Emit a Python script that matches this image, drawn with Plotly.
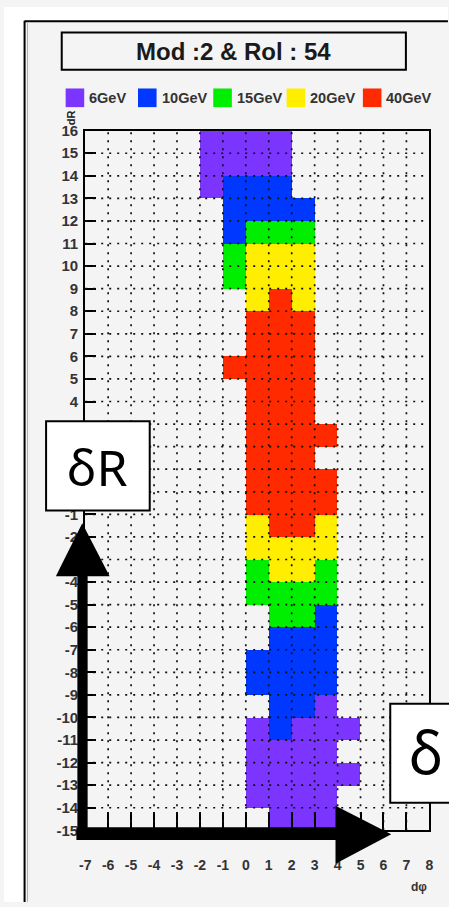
import plotly.graph_objects as go

# Energy thresholds and their fill colours
energy_labels = ["6GeV", "10GeV", "15GeV", "20GeV", "40GeV"]
energy_colors = ["#7b35ff", "#0038ff", "#00ee00", "#ffee00", "#ff2a00"]

# dphi bins: lower edges -7 .. 7 (15 bins of width 1)
dphi_low = list(range(-7, 8))
# dR rows listed from top (lower edge 15) down to bottom (lower edge -15)
dr_low_top_down = list(range(15, -16, -1))

# One character per dphi bin: '.' empty, '1'..'5' = index into energy_labels (+1)
row_codes = [
    ".....1111......",  # 15
    ".....1111......",  # 14
    ".....1222......",  # 13
    "......2222.....",  # 12
    "......2333.....",  # 11
    "......3444.....",  # 10
    "......3444.....",  # 9
    ".......454.....",  # 8
    ".......555.....",  # 7
    ".......555.....",  # 6
    "......5555.....",  # 5
    ".......555.....",  # 4
    ".......555.....",  # 3
    ".......5555....",  # 2
    ".......555.....",  # 1
    ".......5555....",  # 0
    ".......5555....",  # -1
    ".......4554....",  # -2
    ".......4444....",  # -3
    ".......3443....",  # -4
    ".......3333....",  # -5
    "........332....",  # -6
    "........222....",  # -7
    ".......2222....",  # -8
    ".......2222....",  # -9
    "........221....",  # -10
    ".......12111...",  # -11
    ".......1111....",  # -12
    ".......11111...",  # -13
    ".......1111....",  # -14
    "........111....",  # -15
]

x_ticks = list(range(-7, 9))
y_ticks = list(range(-15, 17))
# y labels that sit underneath the δR callout box are left blank
y_hidden = [0, 1, 2, 3]

W, H = 449, 907
BG = "#f4f4f4"


def px(x):
    return x / W


def py(y):
    return 1 - y / H


# Build the z matrix bottom-up for the heatmap
z = []
for codes in reversed(row_codes):
    z.append([int(c) if c != "." else None for c in codes])

n = len(energy_colors)
colorscale = []
for i, c in enumerate(energy_colors):
    colorscale.append([i / n, c])
    colorscale.append([(i + 1) / n, c])

fig = go.Figure()
fig.add_trace(go.Heatmap(
    z=z,
    x0=dphi_low[0] + 0.5, dx=1,
    y0=min(dr_low_top_down) + 0.5, dy=1,
    zmin=0.5, zmax=n + 0.5,
    colorscale=colorscale,
    showscale=False,
    hoverinfo="skip",
    xgap=0, ygap=0,
))

shapes = []
# dotted grid drawn over the cells
for v in x_ticks[1:-1]:
    shapes.append(dict(type="line", xref="x", yref="y", x0=v, x1=v,
                       y0=y_ticks[0], y1=y_ticks[-1], layer="above",
                       line=dict(color="#111111", width=1.7, dash="2px,6px")))
for v in y_ticks[1:-1]:
    shapes.append(dict(type="line", xref="x", yref="y", y0=v, y1=v,
                       x0=x_ticks[0], x1=x_ticks[-1], layer="above",
                       line=dict(color="#111111", width=1.7, dash="2px,6px")))

# canvas frame: white strip on the left and top, black border
shapes.append(dict(type="rect", xref="paper", yref="paper", x0=px(-2), x1=px(18),
                   y0=py(910), y1=py(-2), fillcolor="white", line=dict(width=0), layer="below"))
shapes.append(dict(type="rect", xref="paper", yref="paper", x0=px(-2), x1=px(452),
                   y0=py(12), y1=py(-2), fillcolor="white", line=dict(width=0), layer="below"))
shapes.append(dict(type="line", xref="paper", yref="paper", x0=px(19), x1=px(19),
                   y0=py(12), y1=py(910), line=dict(color="black", width=2)))
shapes.append(dict(type="line", xref="paper", yref="paper", x0=px(19), x1=px(452),
                   y0=py(12.5), y1=py(12.5), line=dict(color="black", width=2)))
shapes.append(dict(type="line", xref="paper", yref="paper", x0=px(22), x1=px(22),
                   y0=py(14), y1=py(910), line=dict(color="#b0b0b0", width=1)))

# title box
shapes.append(dict(type="rect", xref="paper", yref="paper", x0=px(57), x1=px(409),
                   y0=py(62), y1=py(24), fillcolor=BG, line=dict(color="black", width=2)))

annotations = [
    dict(text="<b>Mod :2 &amp; Rol : 54</b>", x=px(233), y=py(43), xref="paper", yref="paper",
         showarrow=False, font=dict(family="Liberation Sans", size=24, color="#1a1a1a"),
         xanchor="center", yanchor="middle"),
    dict(text="<b>dR</b>", x=px(66), y=py(101), xref="paper", yref="paper",
         showarrow=False, textangle=-90, font=dict(family="Liberation Sans", size=11, color="#222"),
         xanchor="center", yanchor="top"),
    dict(text="<b>dφ</b>", x=px(422), y=py(895), xref="paper", yref="paper",
         showarrow=False, font=dict(family="Liberation Sans", size=12, color="#333"),
         xanchor="center", yanchor="middle"),
]

# legend row
leg_x = [61, 135, 212, 287, 365]
for i, (lab, col) in enumerate(zip(energy_labels, energy_colors)):
    x0 = leg_x[i]
    shapes.append(dict(type="rect", xref="paper", yref="paper", x0=px(x0), x1=px(x0 + 19),
                       y0=py(100), y1=py(81), fillcolor=col, line=dict(width=0)))
    annotations.append(dict(text="<b>" + lab + "</b>", x=px(x0 + 22), y=py(91),
                            xref="paper", yref="paper", showarrow=False,
                            xanchor="left", yanchor="middle",
                            font=dict(family="Liberation Sans", size=14.5, color="#333")))

# overlay arrows (dR upward, dphi rightward)
shapes.append(dict(type="rect", xref="paper", yref="paper", x0=px(73), x1=px(83.5),
                   y0=py(847), y1=py(575), fillcolor="black", line=dict(width=0), layer="above"))
shapes.append(dict(type="path", xref="paper", yref="paper", layer="above",
                   path=f"M {px(51)},{py(578)} L {px(78)},{py(524)} L {px(106)},{py(578)} Z",
                   fillcolor="black", line=dict(width=0)))
shapes.append(dict(type="rect", xref="paper", yref="paper", x0=px(72), x1=px(340),
                   y0=py(847), y1=py(834), fillcolor="black", line=dict(width=0), layer="above"))
shapes.append(dict(type="path", xref="paper", yref="paper", layer="above",
                   path=f"M {px(337)},{py(812)} L {px(394)},{py(841)} L {px(337)},{py(871)} Z",
                   fillcolor="black", line=dict(width=0)))

# overlay label boxes
shapes.append(dict(type="rect", xref="paper", yref="paper", x0=px(41), x1=px(147),
                   y0=py(511), y1=py(420), fillcolor="white",
                   line=dict(color="black", width=2), layer="above"))
shapes.append(dict(type="rect", xref="paper", yref="paper", x0=px(393), x1=px(470),
                   y0=py(809), y1=py(708), fillcolor="white",
                   line=dict(color="black", width=2), layer="above"))
annotations.append(dict(text="δR", x=px(94), y=py(467), xref="paper", yref="paper",
                        showarrow=False, xanchor="center", yanchor="middle",
                        font=dict(family="Noto Sans", size=50, color="black")))
annotations.append(dict(text="δ", x=px(430), y=py(757), xref="paper", yref="paper",
                        showarrow=False, xanchor="center", yanchor="middle",
                        font=dict(family="Noto Sans", size=58, color="black")))

fig.update_layout(
    width=W, height=H,
    margin=dict(l=0, r=0, t=0, b=0),
    paper_bgcolor=BG, plot_bgcolor=BG,
    showlegend=False,
    shapes=shapes,
    annotations=annotations,
    xaxis=dict(
        domain=[px(81), px(433)], range=[x_ticks[0], x_ticks[-1]],
        tickvals=x_ticks, ticktext=[str(v) for v in x_ticks],
        ticks="inside", ticklen=18, tickwidth=1.5, tickcolor="black",
        showgrid=False, zeroline=False, showline=True, mirror=True,
        linecolor="black", linewidth=2, layer="above traces",
        ticklabelstandoff=21,
        tickfont=dict(family="Liberation Sans", size=14, color="#333", weight="bold"),
        fixedrange=True,
    ),
    yaxis=dict(
        domain=[py(837), py(124)], range=[y_ticks[0], y_ticks[-1]],
        tickvals=y_ticks,
        ticktext=["" if v in y_hidden else str(v) for v in y_ticks],
        ticks="inside", ticklen=11, tickwidth=1.5, tickcolor="black",
        showgrid=False, zeroline=False, showline=True, mirror=True,
        linecolor="black", linewidth=2, layer="above traces",
        ticklabelstandoff=2,
        tickfont=dict(family="Liberation Sans", size=15, color="#333", weight="bold"),
        fixedrange=True,
    ),
)

fig.write_html("out.html")
